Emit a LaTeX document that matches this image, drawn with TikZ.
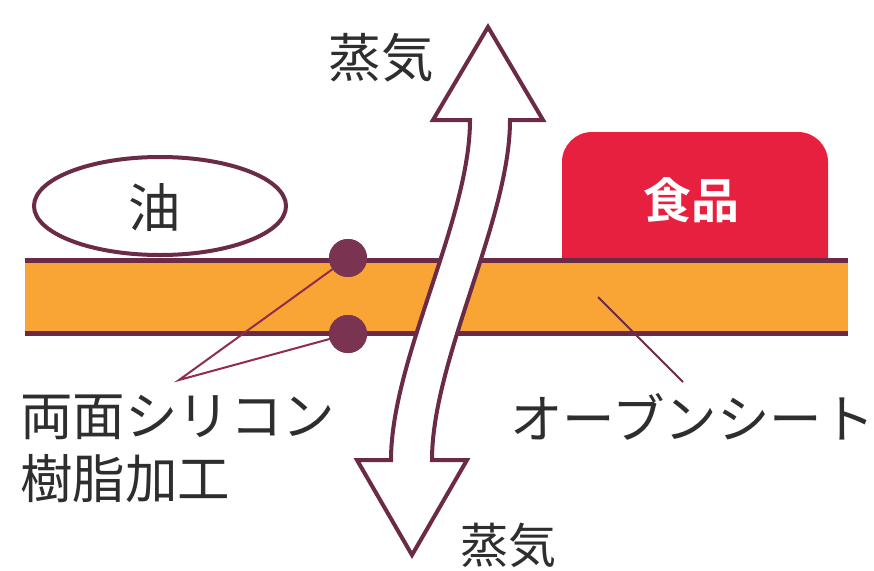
\documentclass[tikz,border=0pt]{standalone}
\usepackage{fontspec}
\newfontfamily\jp{Noto Sans CJK JP}
\newfontfamily\jpb{Noto Sans CJK JP Bold}
\definecolor{maroon}{HTML}{6B2A45}
\definecolor{dotc}{HTML}{7A3350}
\definecolor{sheet}{HTML}{F8A535}
\definecolor{food}{HTML}{E8203F}
\definecolor{txt}{HTML}{2E2E2E}
\definecolor{leader}{HTML}{8E2D4C}
\tikzset{
  lbl/.style={font=\jp\fontsize{52.5}{62}\selectfont, text=txt, inner sep=0pt},
  dotnode/.style={circle, fill=dotc, minimum size=38pt, inner sep=0pt},
  leaderline/.style={draw=leader, line width=2pt},
  edge/.style={draw=maroon, line width=4pt},
}
\begin{document}
\begin{tikzpicture}[x=1pt,y=-1pt]
\useasboundingbox (0,0) rectangle (874,570);
\fill[white] (0,0) rectangle (874,570);
% food (bottom hidden under the sheet)
\fill[food, rounded corners=30pt] (562,132) rectangle (828,300);
\node[font=\jpb\fontsize{48}{58}\selectfont, text=white, inner sep=0pt] (foodlbl) at (691,200) {食品};
% oil
\draw[edge, fill=white] (160,206) ellipse [x radius=126, y radius=49];
\node[lbl] (oil) at (155,208) {油};
% sheet
\fill[sheet] (25,260) rectangle (848,333);
\draw[edge, line width=5pt] (25,260) -- (848,260);
\draw[edge, line width=5pt] (25,333) -- (848,333);
% leaders
\coordinate (conv) at (179,380);
\coordinate (sheetpt) at (598,297);
\coordinate (sheetend) at (683,382);
\node[dotnode] (d1) at (348,258) {};
\node[dotnode] (d2) at (348,334) {};
\draw[leaderline] (d1.center) -- (conv) -- (d2.center);
\draw[line width=2pt, draw=maroon] (sheetpt) -- (sheetend);
\node[dotnode] at (348,258) {};
\node[dotnode] at (348,334) {};
% arrow
\draw[edge, fill=white, line join=miter]
  (488,27) -- (543,120) -- (510,120)
  .. controls (510,220) and (432,360) .. (432,460)
  -- (467,460) -- (412,555) -- (357,460) -- (391,460)
  .. controls (391,360) and (470,220) .. (470,120)
  -- (433,120) -- cycle;
% labels
\node[lbl] (steamtop) at (381,58) {蒸気};
\node[lbl, font=\jp\fontsize{48}{58}\selectfont] (steambot) at (508,545) {蒸気};
\node[lbl, anchor=west] (sil1) at (20,417) {両面シリコン};
\node[lbl, anchor=west] (sil2) at (20,479) {樹脂加工};
\node[lbl, anchor=west] (ovensheet) at (510,417) {オーブンシート};
\end{tikzpicture}
\end{document}
